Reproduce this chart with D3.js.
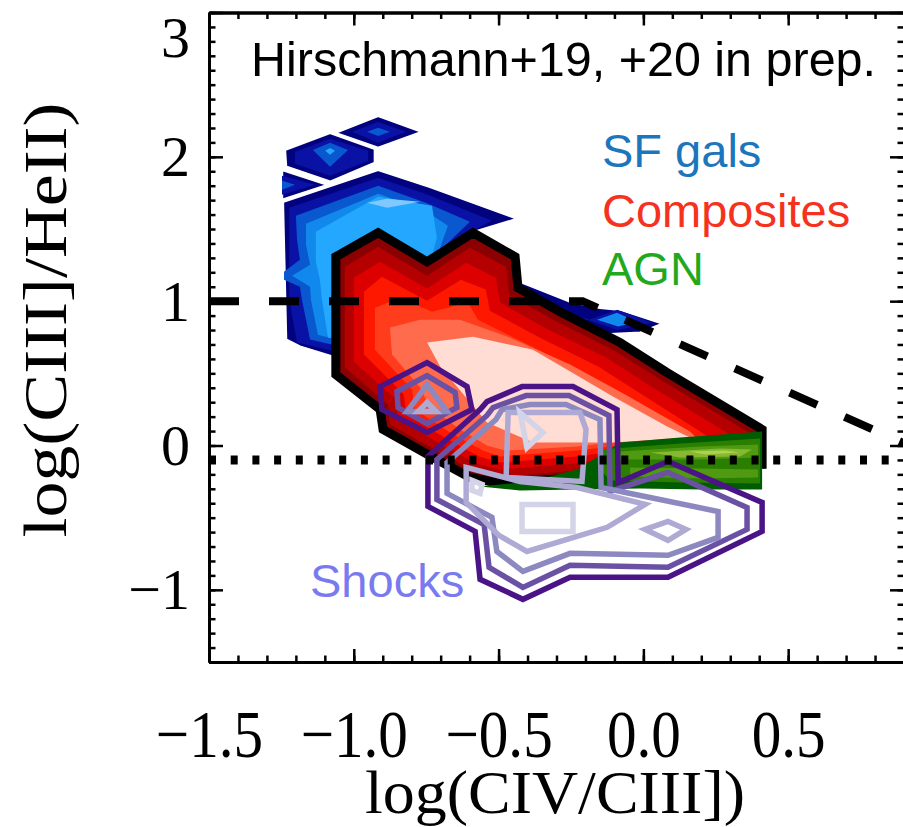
<!DOCTYPE html>
<html><head><meta charset="utf-8">
<script src="https://cdn.jsdelivr.net/npm/d3@7"></script>
<style>html,body{margin:0;padding:0;background:#fff;} svg{display:block}</style>
</head><body>
<svg id="chart" width="903" height="827"></svg>
<script>
// ---------------- DATA ----------------
const xDomain = [-1.5, 0.9];
const yDomain = [-1.5, 3];
const xTickLabels = [-1.5, -1.0, -0.5, 0.0, 0.5];
const yTickLabels = [-1, 0, 1, 2, 3];
const legendLabels = ["SF gals", "Composites", "AGN"];

// SF galaxies filled contours (lv 0 = outermost)
const sfGals = [
 {lv:0, pts:[[-1.245,1.689],[-0.916,1.910],[-0.737,1.792],[-0.433,1.571],[-0.650,1.439],[-0.564,1.356],[-0.426,1.135],[-0.253,0.997],[-0.150,0.955],[-0.080,0.941],[0.068,0.844],[-0.011,0.782],[-0.150,0.768],[-0.426,0.803],[-0.668,0.803],[-0.909,0.734],[-1.062,0.609],[-1.186,0.685],[-1.234,0.734]]},
 {lv:0, pts:[[-1.238,2.048],[-1.082,2.166],[-0.927,2.055],[-0.927,1.958],[-1.082,1.827],[-1.234,1.931]]},
 {lv:0, pts:[[-1.065,2.166],[-0.916,2.284],[-0.764,2.173],[-0.916,2.062]]},
 {lv:0, pts:[[-1.248,1.910],[-1.089,1.806],[-1.248,1.702]]},
 {lv:1, pts:[[-1.223,1.647],[-0.916,1.855],[-0.744,1.737],[-0.523,1.557],[-0.668,1.405],[-0.564,1.273],[-0.443,1.080],[-0.288,0.927],[-0.184,0.872],[-0.288,0.817],[-0.564,0.803],[-0.840,0.734],[-1.062,0.651],[-1.196,0.713],[-1.223,1.010]]},
 {lv:1, pts:[[-1.203,2.035],[-1.082,2.125],[-0.951,2.042],[-0.951,1.972],[-1.082,1.869],[-1.203,1.952]]},
 {lv:1, pts:[[-1.006,2.173],[-0.916,2.242],[-0.820,2.173],[-0.916,2.097]]},
 {lv:1, pts:[[-1.248,1.869],[-1.134,1.806],[-1.248,1.737]]},
 {lv:1, pts:[[-0.190,0.870],[-0.090,0.940],[0.030,0.850],[-0.090,0.800]]},
 {lv:2, pts:[[-1.200,1.592],[-0.916,1.799],[-0.751,1.682],[-0.599,1.550],[-0.685,1.384],[-0.616,1.273],[-0.495,1.080],[-0.633,0.872],[-0.840,0.768],[-1.062,0.692],[-1.151,0.734],[-1.179,1.010],[-1.186,1.100],[-1.241,1.149],[-1.241,1.204],[-1.186,1.287],[-1.196,1.426]]},
 {lv:2, pts:[[-1.141,2.048],[-1.082,2.097],[-1.020,2.048],[-1.082,1.931]]},
 {lv:2, pts:[[-0.954,2.173],[-0.916,2.201],[-0.875,2.173],[-0.916,2.145]]},
 {lv:2, pts:[[-1.248,1.834],[-1.203,1.806],[-1.248,1.772]]},
 {lv:3, pts:[[-1.165,1.536],[-0.916,1.744],[-0.758,1.633],[-0.675,1.522],[-0.702,1.370],[-0.661,1.253],[-0.564,1.080],[-0.702,0.872],[-0.909,0.768],[-1.062,0.734],[-1.124,0.768],[-1.148,1.010],[-1.151,1.100],[-1.213,1.176],[-1.151,1.253],[-1.165,1.391]]},
 {lv:3, pts:[[-0.160,0.872],[-0.091,0.920],[-0.022,0.858],[-0.087,0.824]]},
 {lv:4, pts:[[-1.131,1.481],[-0.916,1.723],[-0.730,1.661],[-0.713,1.439],[-0.730,1.315],[-0.685,1.183],[-0.771,0.907],[-0.979,0.768],[-1.089,0.747],[-1.110,1.010],[-1.117,1.149],[-1.131,1.273]]},
 {lv:4, pts:[[-1.099,2.042],[-1.082,2.062],[-1.065,2.042],[-1.082,2.014]]},
 {lv:5, pts:[[-0.954,1.682],[-0.885,1.709],[-0.771,1.689],[-0.885,1.647]]}
];

// Composites filled contours
const composites = [
 {lv:0, pts:[[-1.062,1.308],[-0.916,1.474],[-0.747,1.273],[-0.588,1.474],[-0.443,1.308],[-0.433,1.093],[-0.288,0.927],[-0.080,0.713],[0.082,0.505],[0.410,0.111],[0.410,-0.131],[0.127,-0.152],[-0.080,-0.166],[-0.229,-0.221],[-0.495,-0.263],[-0.599,-0.221],[-0.726,-0.083],[-0.899,0.111],[-0.909,0.249],[-1.062,0.491]]},
 {lv:1, pts:[[-1.031,1.239],[-0.916,1.377],[-0.747,1.176],[-0.599,1.370],[-0.474,1.239],[-0.464,1.045],[-0.312,0.872],[-0.105,0.664],[0.058,0.457],[0.376,0.076],[0.376,-0.083],[0.127,-0.104],[-0.080,-0.118],[-0.229,-0.173],[-0.495,-0.215],[-0.588,-0.173],[-0.709,-0.042],[-0.875,0.145],[-0.882,0.284],[-1.031,0.540]]},
 {lv:2, pts:[[-1.000,1.163],[-0.909,1.273],[-0.747,1.087],[-0.612,1.266],[-0.509,1.163],[-0.495,0.990],[-0.336,0.810],[-0.129,0.609],[0.033,0.401],[0.327,0.042],[0.327,-0.055],[0.127,-0.062],[-0.080,-0.076],[-0.229,-0.125],[-0.495,-0.166],[-0.578,-0.125],[-0.692,0.000],[-0.847,0.180],[-0.854,0.318],[-1.000,0.581]]},
 {lv:3, pts:[[-0.965,1.066],[-0.903,1.170],[-0.747,1.003],[-0.630,1.149],[-0.544,1.080],[-0.530,0.934],[-0.364,0.754],[-0.156,0.547],[0.006,0.339],[0.272,0.000],[0.127,-0.021],[-0.080,-0.035],[-0.229,-0.076],[-0.495,-0.118],[-0.567,-0.076],[-0.675,0.042],[-0.820,0.215],[-0.827,0.353],[-0.965,0.630]]},
 {lv:4, pts:[[-0.927,0.955],[-0.840,1.024],[-0.730,0.927],[-0.606,0.990],[-0.571,0.872],[-0.399,0.699],[-0.191,0.491],[-0.018,0.284],[0.213,0.007],[-0.080,0.000],[-0.229,-0.035],[-0.495,-0.076],[-0.554,-0.035],[-0.657,0.076],[-0.789,0.249],[-0.799,0.388],[-0.927,0.664]]},
 {lv:5, pts:[[-0.875,0.817],[-0.771,0.872],[-0.633,0.872],[-0.460,0.747],[-0.253,0.561],[-0.063,0.353],[0.161,0.097],[0.196,0.028],[-0.080,0.028],[-0.229,-0.007],[-0.478,-0.035],[-0.540,0.000],[-0.633,0.111],[-0.737,0.263],[-0.771,0.401],[-0.868,0.630]]},
 {lv:6, pts:[[-0.747,0.713],[-0.588,0.754],[-0.381,0.664],[-0.105,0.339],[0.082,0.131],[0.161,0.055],[-0.105,0.021],[-0.381,0.021],[-0.540,0.159],[-0.702,0.547]]}
];

// AGN filled contours
const agn = [
 {lv:0, pts:[[-0.564,-0.284],[-0.392,-0.249],[-0.229,-0.166],[-0.080,0.021],[0.127,0.055],[0.410,0.097],[0.410,-0.304],[0.196,-0.304],[-0.011,-0.298],[-0.229,-0.304],[-0.426,-0.311]]},
 {lv:1, pts:[[-0.150,-0.028],[0.127,0.014],[0.403,0.048],[0.403,-0.263],[0.127,-0.256],[-0.115,-0.242],[-0.150,-0.166]]},
 {lv:2, pts:[[-0.080,-0.042],[0.196,-0.007],[0.396,0.007],[0.396,-0.083],[0.196,-0.097],[-0.080,-0.097]]},
 {lv:2, pts:[[-0.046,-0.152],[0.196,-0.159],[0.396,-0.166],[0.396,-0.221],[0.196,-0.228],[-0.046,-0.214]]},
 {lv:3, pts:[[0.023,-0.048],[0.265,-0.021],[0.375,-0.028],[0.334,-0.076],[0.127,-0.083]]},
 {lv:4, pts:[[0.161,-0.042],[0.282,-0.035],[0.334,-0.048],[0.213,-0.062]]}
];

// Shocks line contours
const shocks = [
 {lv:0, pts:[[-0.744,-0.076],[-0.564,0.249],[-0.540,0.304],[-0.419,0.408],[-0.243,0.408],[-0.091,0.249],[-0.087,-0.256],[0.085,-0.111],[0.410,-0.394],[0.410,-0.595],[0.085,-0.913],[-0.253,-0.913],[-0.416,-1.066],[-0.564,-0.927],[-0.581,-0.595],[-0.744,-0.422]]},
 {lv:0, pts:[[-0.909,0.408],[-0.747,0.574],[-0.609,0.408],[-0.592,0.249],[-0.747,0.090],[-0.903,0.249]]},
 {lv:1, pts:[[-0.713,-0.097],[-0.540,0.208],[-0.519,0.263],[-0.405,0.346],[-0.257,0.346],[-0.119,0.208],[-0.115,-0.318],[0.085,-0.187],[0.358,-0.429],[0.358,-0.581],[0.085,-0.844],[-0.253,-0.830],[-0.416,-0.983],[-0.533,-0.844],[-0.550,-0.547],[-0.713,-0.374]]},
 {lv:1, pts:[[-0.851,0.374],[-0.747,0.484],[-0.650,0.367],[-0.644,0.263],[-0.747,0.152],[-0.847,0.263]]},
 {lv:2, pts:[[-0.678,-0.118],[-0.509,0.180],[-0.488,0.249],[-0.392,0.284],[-0.267,0.284],[-0.150,0.180],[-0.146,-0.291],[0.023,-0.360],[0.258,-0.457],[0.258,-0.637],[0.085,-0.761],[-0.253,-0.747],[-0.416,-0.872],[-0.506,-0.734],[-0.523,-0.498],[-0.678,-0.332]]},
 {lv:2, pts:[[-0.816,0.235],[-0.747,0.422],[-0.678,0.235]]},
 {lv:3, pts:[[-0.612,-0.152],[-0.426,-0.249],[-0.229,-0.291],[0.006,-0.408],[-0.125,-0.567],[-0.402,-0.734],[-0.499,-0.623],[-0.612,-0.394]]},
 {lv:3, pts:[[-0.474,-0.221],[-0.467,0.228],[-0.219,0.228],[-0.198,0.111],[-0.212,-0.249]]},
 {lv:3, pts:[[-0.778,0.235],[-0.747,0.298],[-0.716,0.235]]},
 {lv:3, pts:[[0.006,-0.581],[0.085,-0.526],[0.147,-0.581],[0.085,-0.657]]},
 {lv:4, pts:[[-0.426,0.228],[-0.347,0.090],[-0.402,-0.014]]},
 {lv:4, pts:[[-0.419,-0.408],[-0.243,-0.408],[-0.243,-0.595],[-0.419,-0.595]]},
 {lv:4, pts:[[-0.592,-0.242],[-0.557,-0.270],[-0.564,-0.332],[-0.592,-0.311]]}
];

const dashedLine = [[-1.5,1.0],[-0.21,1.0],[0.9,0.016]];
const dottedLine = [[-1.5,-0.1],[0.9,-0.1]];

// ---------------- STYLE ----------------
const sfColors = ['#02027e','#0a12a6','#0a58cf','#1189ec','#24a8ff','#80c8ff'];
const compColors = ['#8b0000','#b40000','#dc0000','#ff1800','#ff3c1c','#ff6b4d','#ffdcd4'];
const agnColors = ['#005c00','#2a7e00','#4f9a10','#86b832','#aed250'];
const shockColors = ['#4a1486','#6a51a3','#8c88c0','#aeaad4','#d4d4e8'];
const legendColors = ['#1b76bd','#f5321e','#22a81c'];

// ---------------- DRAW ----------------
const svg = d3.select('#chart');
const L=209, R=904, T=12.5, B=662;
const x = d3.scaleLinear().domain(xDomain).range([L, R]);
const y = d3.scaleLinear().domain(yDomain).range([B, T]);
const line = d3.line().x(d=>x(d[0])).y(d=>y(d[1]));
const poly = p => line(p) + 'Z';

svg.append('defs').append('clipPath').attr('id','clip')
  .append('rect').attr('x',L).attr('y',T).attr('width',R-L).attr('height',B-T);
const g = svg.append('g').attr('clip-path','url(#clip)');

const byLv = arr => arr.slice().sort((a,b)=>a.lv-b.lv);

g.append('g').selectAll('path').data(byLv(sfGals)).join('path')
  .attr('d', d=>poly(d.pts)).attr('fill', d=>sfColors[d.lv])
  .attr('stroke', d=>d.lv===0?'#fff':'none').attr('stroke-width',2.5);

g.append('g').selectAll('path').data(byLv(composites)).join('path')
  .attr('d', d=>poly(d.pts)).attr('fill', d=>compColors[d.lv])
  .attr('stroke', d=>d.lv===0?'#000':'none').attr('stroke-width',9)
  .attr('stroke-linejoin','miter');

g.append('g').selectAll('path').data(byLv(agn)).join('path')
  .attr('d', d=>poly(d.pts)).attr('fill', d=>agnColors[d.lv]);

g.append('g').selectAll('path').data(byLv(shocks)).join('path')
  .attr('d', d=>poly(d.pts)).attr('fill','none')
  .attr('stroke', d=>shockColors[d.lv]).attr('stroke-width',5.5)
  .attr('stroke-linejoin','miter');

g.append('path').attr('d', line(dashedLine)).attr('fill','none')
  .attr('stroke','#000').attr('stroke-width',8).attr('stroke-dasharray','30,30');
g.append('path').attr('d', line(dottedLine)).attr('fill','none')
  .attr('stroke','#000').attr('stroke-width',9).attr('stroke-dasharray','7,14.7');

// ---------------- AXES ----------------
const xMinor = d3.range(-15, 10).map(i=>i/10);
const yMinor = d3.range(-15, 31).map(i=>i/10);
const styleAxis = sel => {
  sel.select('.domain').attr('stroke','#000').attr('stroke-width',3);
  sel.selectAll('.tick line').attr('stroke','#000').attr('stroke-width',2.5);
};
const serif = '"Liberation Serif","Times New Roman",serif';

svg.append('g').attr('transform',`translate(0,${B})`)
  .call(d3.axisBottom(x).tickValues(xMinor).tickSize(-6.5).tickSizeOuter(0).tickFormat('')).call(styleAxis);
svg.append('g').attr('transform',`translate(0,${T})`)
  .call(d3.axisTop(x).tickValues(xMinor).tickSize(-6.5).tickSizeOuter(0).tickFormat('')).call(styleAxis);
svg.append('g').attr('transform',`translate(${L},0)`)
  .call(d3.axisLeft(y).tickValues(yMinor).tickSize(-6.5).tickSizeOuter(0).tickFormat('')).call(styleAxis);
svg.append('g').attr('transform',`translate(${R},0)`)
  .call(d3.axisRight(y).tickValues(yMinor).tickSize(-6.5).tickSizeOuter(0).tickFormat('')).call(styleAxis);

const xb = svg.append('g').attr('transform',`translate(0,${B})`)
  .call(d3.axisBottom(x).tickValues(xTickLabels).tickSize(-13).tickSizeOuter(0).tickFormat(d3.format('.1f')))
  .call(styleAxis);
xb.attr('font-family', serif).attr('font-size', 68);
xb.selectAll('text').attr('y', 95).attr('dy', 0).attr('fill','#000')
  .attr('transform','scale(0.87,1)');

svg.append('g').attr('transform',`translate(0,${T})`)
  .call(d3.axisTop(x).tickValues(xTickLabels).tickSize(-13).tickSizeOuter(0).tickFormat(''))
  .call(styleAxis);

const yl = svg.append('g').attr('transform',`translate(${L},0)`)
  .call(d3.axisLeft(y).tickValues(yTickLabels).tickSize(-14).tickSizeOuter(0).tickFormat(d3.format('d')))
  .call(styleAxis);
yl.attr('font-family', serif).attr('font-size', 58);
yl.selectAll('text').attr('x', -19).attr('dy', '0.33em').attr('fill','#000');
yl.selectAll('.tick').filter(d=>d===3).select('text').attr('dy','0.75em');

svg.append('g').attr('transform',`translate(${R},0)`)
  .call(d3.axisRight(y).tickValues(yTickLabels).tickSize(-14).tickSizeOuter(0).tickFormat(''))
  .call(styleAxis);

// axis titles
svg.append('text').attr('x', 555).attr('y', 813).attr('text-anchor','middle')
  .attr('font-family', serif).attr('font-size', 62)
  .attr('textLength', 380).attr('lengthAdjust','spacingAndGlyphs').text('log(CIV/CIII])');
svg.append('text').attr('transform','translate(66,320) rotate(-90)').attr('text-anchor','middle')
  .attr('font-family', serif).attr('font-size', 62)
  .attr('textLength', 435).attr('lengthAdjust','spacingAndGlyphs').text('log(CIII]/HeII)');

// annotations
const sans = '"Liberation Sans",Arial,Helvetica,sans-serif';
svg.append('text').attr('x', 251).attr('y', 76).attr('font-family', sans).attr('font-size', 48)
  .attr('fill','#000').attr('textLength', 625).attr('lengthAdjust','spacingAndGlyphs')
  .text('Hirschmann+19, +20 in prep.');
svg.append('g').selectAll('text').data(legendLabels).join('text')
  .attr('x', 602).attr('y', (d,i)=>[167,227,285][i])
  .attr('font-family', sans).attr('font-size', 47)
  .attr('fill', (d,i)=>legendColors[i]).text(d=>d);
svg.append('text').attr('x', 310).attr('y', 597).attr('font-family', sans).attr('font-size', 47)
  .attr('fill','#7a7af0').text('Shocks');
</script>
</body></html>
